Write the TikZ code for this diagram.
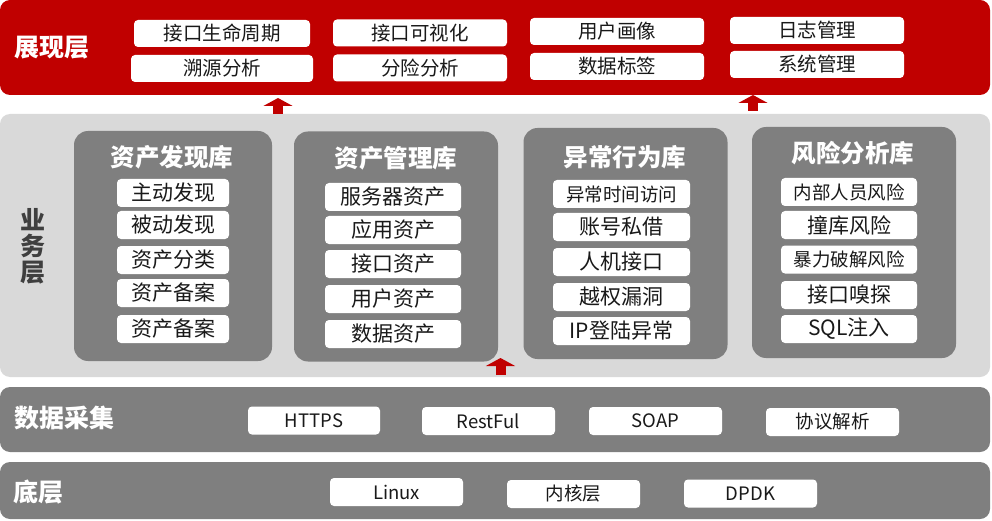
\documentclass[tikz,border=0pt]{standalone}
\usepackage{fontspec}
\setmainfont{Noto Sans CJK SC}
\usepackage{xcolor}
\usetikzlibrary{arrows.meta,positioning,calc}
\definecolor{showred}{HTML}{C00000}
\definecolor{bizgray}{HTML}{D9D9D9}
\definecolor{libgray}{HTML}{7F7F7F}
\definecolor{labgray}{HTML}{3F3F3F}

\begin{document}
\begin{tikzpicture}[
				x=1pt, y=-1pt,
				layer/.style={
					rectangle, rounded corners=10pt,
					inner sep=0pt, minimum width=990pt
				},
				lablbl/.style={font=\fontsize{25}{26}\selectfont\bfseries, white},
				item/.style={
					rectangle, rounded corners=4pt,
					fill=white, text=black!90, inner sep=0pt,
					minimum width=174pt, minimum height=27pt,
					font=\fontsize{19.5}{22}\selectfont
				},
				panel/.style={
					rectangle, rounded corners=14pt,
					fill=libgray, inner sep=0pt,
					minimum width=204pt, minimum height=230pt
				},
				ptitle/.style={font=\fontsize{24.5}{26}\selectfont\bfseries, white},
				pitem/.style={item, minimum width=136pt, minimum height=28pt,
					font=\fontsize{21}{24}\selectfont},
				bitem/.style={item, minimum width=133pt, minimum height=28pt,
					font=\fontsize{18.5}{21}\selectfont},
				uparr/.style={showred, line width=10pt, -{Triangle[width=29pt, length=8pt]}}
				]
				\useasboundingbox (0,0) rectangle (992,521);
				
				\node[layer, fill=showred, minimum height=95pt] (show) at (495,47.5) {};
				\node[layer, fill=bizgray, minimum height=263pt] (biz) at (495,245.5) {};
				\node[layer, fill=libgray, minimum height=65pt] (coll) at (495,419.5) {};
				\node[layer, fill=libgray, minimum height=57pt] (base) at (495,490.5) {};
				
				\node[lablbl] (lshow) at (52,48) {展现层};
				\node[lablbl, text=labgray, align=center] (lbiz) at (33,246) {业\\务\\层};
				\node[lablbl] (lcoll) at (64,418) {数据采集};
				\node[lablbl] (lbase) at (38,492) {底层};
				
				\node[item, minimum width=176pt] (life) at (222,33.5) {接口生命周期};
				\node[item, minimum width=182pt] (trace) at (222,68.5) {溯源分析};
				\node[item] (vis) at (420,33) {接口可视化};
				\node[item] (riska) at (420,68) {分险分析};
				\node[item] (portrait) at (617,31.5) {用户画像};
				\node[item] (tag) at (617,66.5) {数据标签};
				\node[item] (log) at (817,30.5) {日志管理};
				\node[item] (sys) at (817,64.5) {系统管理};
				
				\node[panel, minimum width=198pt] (find) at (173,246) {};
				\node[panel] (manage) at (396,246.5) {};
				\node[panel, minimum height=231pt] (abn) at (625.5,243.5) {};
				\node[panel, minimum height=231pt] (riskp) at (854,242.5) {};
				\node[ptitle] (tfind) at (172,157) {资产发现库};
				\node[ptitle] (tmanage) at (396,158) {资产管理库};
				\node[ptitle] (tabn) at (625,157) {异常行为库};
				\node[ptitle] (triskp) at (853,153) {风险分析库};
				
				\foreach \t/\y [count=\i] in {主动发现/193, 被动发现/225, 资产分类/260,
					资产备案/293, 资产备案/329}
				\node[pitem, minimum width=112pt] (find\i) at (173,\y) {\t};
				\foreach \t/\y [count=\i] in {服务器资产/197, 应用资产/230, 接口资产/264,
					用户资产/299, 数据资产/334}
				\node[pitem] (manage\i) at (393,\y) {\t};
				\foreach \t/\y [count=\i] in {{\fontsize{18.5}{21}\selectfont 异常时间访问}/194,
					账号私借/227, 人机接口/262, 越权漏洞/297, IP登陆异常/331}
				\node[pitem, minimum width=137pt] (abn\i) at (621.5,\y) {\t};
				\foreach \t/\y [count=\i] in {{\fontsize{18.5}{21}\selectfont 内部人员风险}/192,
					撞库风险/225, {\fontsize{18.5}{21}\selectfont 暴力破解风险}/259.5,
					接口嗅探/295, SQL注入/329}
				\node[pitem] (riskp\i) at (849,\y) {\t};
				
				\node[bitem, minimum width=132pt] (https) at (314,420.5) {HTTPS};
				\node[bitem] (restful) at (488.5,421) {RestFul};
				\node[bitem] (soap) at (655.5,421) {SOAP};
				\node[bitem] (proto) at (832.5,422) {协议解析};
				\node[bitem] (linux) at (396.5,492) {Linux};
				\node[bitem] (kernel) at (573.5,494) {内核层};
				\node[bitem] (dpdk) at (750.5,493.5) {DPDK};
				
				\coordinate (up1) at (278,98);
				\coordinate (up2) at (753,95);
				\coordinate (up3) at (500.5,358);
				\draw[uparr] (biz.north -| up1) -- (up1);
				\draw[uparr, shorten <=3pt] (biz.north -| up2) -- (up2);
				\draw[uparr, shorten <=2pt] (biz.south -| up3) -- (up3);
\end{tikzpicture}
\end{document}
